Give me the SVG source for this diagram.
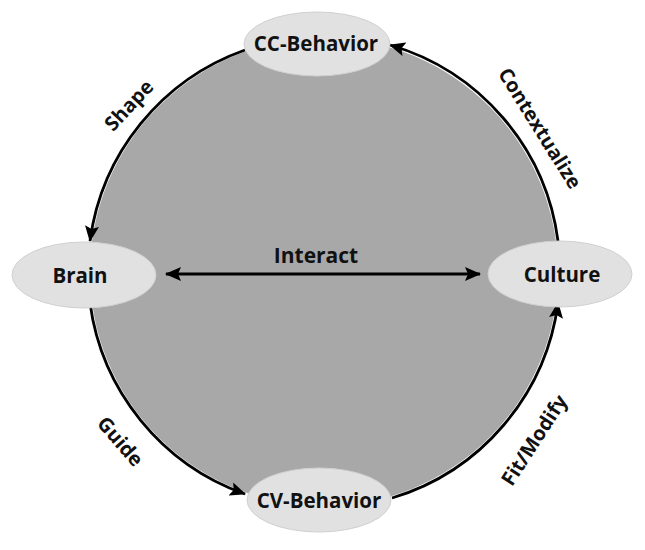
<svg xmlns="http://www.w3.org/2000/svg" width="645" height="550" viewBox="0 0 645 550">
<style>
.node ellipse{fill:#e1e1e1;stroke:#d0d0d0;stroke-width:1}
.node text{font-family:"Open Sans","Liberation Sans",sans-serif;font-weight:700;font-size:20.5px;fill:#111;text-anchor:middle}
.conn path{fill:none;stroke:#000;stroke-width:2.8}
.lbl{font-family:"Open Sans","Liberation Sans",sans-serif;font-weight:700;font-size:20px;fill:#111;text-anchor:middle}
</style>
<defs>
<marker id="ah" viewBox="0 0 16 14" refX="15" refY="7" markerWidth="16" markerHeight="14" markerUnits="userSpaceOnUse" orient="auto-start-reverse">
<path d="M0,0 L16,7 L0,14 L3,7 Z" fill="#000"/>
</marker>
</defs>
<rect width="645" height="550" fill="#fff"/>
<circle id="background" cx="324" cy="272" r="234" fill="#a8a8a8"/>
<g id="connectors" class="conn">
<path id="shape" d="M245,50 A236,236 0 0 0 90,241" marker-end="url(#ah)"/>
<path id="contextualize" d="M558,241 A236,236 0 0 0 390,45" marker-end="url(#ah)"/>
<path id="guide" d="M90,303 A236,236 0 0 0 245,494" marker-end="url(#ah)"/>
<path id="fitmodify" d="M392,498 A236,236 0 0 0 558,303" marker-end="url(#ah)"/>
<path id="interact" d="M166,274 L480,274" marker-start="url(#ah)" marker-end="url(#ah)"/>
</g>
<g id="labels">
<text class="lbl" transform="translate(134,110) rotate(-47)">Shape</text>
<text class="lbl" transform="translate(534,132) rotate(58)">Contextualize</text>
<text class="lbl" transform="translate(115,446) rotate(49)">Guide</text>
<text class="lbl" transform="translate(540,444) rotate(-57)">Fit/Modify</text>
<text class="lbl" x="316" y="263" style="font-size:21px">Interact</text>
</g>
<g id="cc-behavior" class="node">
<ellipse cx="317" cy="44" rx="73" ry="32"/>
<text x="316" y="51">CC-Behavior</text>
</g>
<g id="brain" class="node">
<ellipse cx="84" cy="275" rx="72" ry="33"/>
<text x="80" y="283">Brain</text>
</g>
<g id="culture" class="node">
<ellipse cx="560" cy="274" rx="72" ry="33"/>
<text x="562" y="282">Culture</text>
</g>
<g id="cv-behavior" class="node">
<ellipse cx="319" cy="500" rx="72" ry="32"/>
<text x="319" y="508">CV-Behavior</text>
</g>
</svg>
